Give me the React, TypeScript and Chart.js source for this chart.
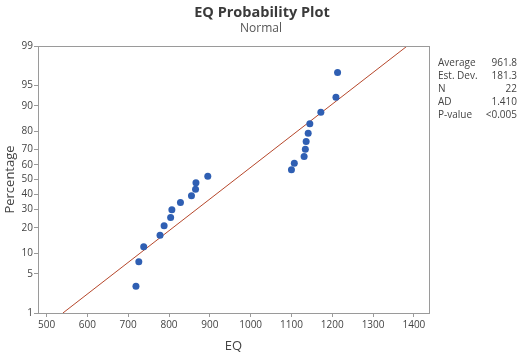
import React, { useEffect, useRef } from 'react';
import { Chart, registerables, Scale } from 'chart.js';

const TITLE = 'EQ Probability Plot';
const SUBTITLE = 'Normal';
const X_TITLE = 'EQ';
const Y_TITLE = 'Percentage';

// Observed EQ values (sorted)
const EQ_VALUES = [719, 726, 738, 778, 788, 804, 807, 828, 855, 865, 866, 895,
  1100, 1107, 1131, 1134, 1136, 1141, 1145, 1172, 1209, 1213];
// Plotting positions (median ranks), percent
const PERCENTS = [3.13, 7.59, 12.05, 16.52, 20.98, 25.45, 29.91, 34.38, 38.84, 43.30, 47.77,
  52.23, 56.70, 61.16, 65.63, 70.09, 74.55, 79.02, 83.48, 87.95, 92.41, 96.88];

const X_TICKS = [500, 600, 700, 800, 900, 1000, 1100, 1200, 1300, 1400];
const Y_TICKS = [1, 5, 10, 20, 30, 40, 50, 60, 70, 80, 90, 95, 99];

const AVERAGE = 961.8;
const STDEV = 181.3;
const STAT_LABELS = ['Average', 'Est. Dev.', 'N', 'AD', 'P-value'];
const STAT_VALUES = ['961.8', '181.3', '22', '1.410', '<0.005'];

const FONT = '"Open Sans", "Noto Sans", sans-serif';

function probit(p: number): number {
  const a = [-3.969683028665376e+01, 2.209460984245205e+02, -2.759285104469687e+02, 1.383577518672690e+02, -3.066479806614716e+01, 2.506628277459239e+00];
  const b = [-5.447609879822406e+01, 1.615858368580409e+02, -1.556989798598866e+02, 6.680131188771972e+01, -1.328068155288572e+01];
  const c = [-7.784894002430293e-03, -3.223964580411365e-01, -2.400758277161838e+00, -2.549732539343734e+00, 4.374664141464968e+00, 2.938163982698783e+00];
  const d = [7.784695709041462e-03, 3.224671290700398e-01, 2.445134137142996e+00, 3.754408661907416e+00];
  const pl = 0.02425, ph = 1 - pl;
  if (p < pl) {
    const q = Math.sqrt(-2 * Math.log(p));
    return (((((c[0] * q + c[1]) * q + c[2]) * q + c[3]) * q + c[4]) * q + c[5]) / ((((d[0] * q + d[1]) * q + d[2]) * q + d[3]) * q + 1);
  }
  if (p <= ph) {
    const q = p - 0.5, r = q * q;
    return (((((a[0] * r + a[1]) * r + a[2]) * r + a[3]) * r + a[4]) * r + a[5]) * q / (((((b[0] * r + b[1]) * r + b[2]) * r + b[3]) * r + b[4]) * r + 1);
  }
  const q = Math.sqrt(-2 * Math.log(1 - p));
  return -(((((c[0] * q + c[1]) * q + c[2]) * q + c[3]) * q + c[4]) * q + c[5]) / ((((d[0] * q + d[1]) * q + d[2]) * q + d[3]) * q + 1);
}

function normCdf(z: number): number {
  const t = 1 / (1 + 0.3275911 * Math.abs(z) / Math.SQRT2);
  const y = 1 - (((((1.061405429 * t - 1.453152027) * t) + 1.421413741) * t - 0.284496736) * t + 0.254829592) * t * Math.exp(-z * z / 2);
  return z >= 0 ? 0.5 * (1 + y) : 0.5 * (1 - y);
}

class ProbitScale extends (Scale as any) {
  static id = 'probit';
  static defaults = {};
  _zmin = -2;
  _zmax = 2;
  determineDataLimits() {
    const { min, max } = this.getUserBounds();
    this.min = min;
    this.max = max;
  }
  buildTicks() {
    return Y_TICKS.map((v) => ({ value: v }));
  }
  getLabelForValue(v: number) {
    return String(v);
  }
  configure() {
    super.configure();
    this._zmin = probit(this.min / 100);
    this._zmax = probit(this.max / 100);
  }
  getPixelForValue(v: number) {
    if (v == null || isNaN(v)) return NaN;
    const z = probit(v / 100);
    return this.getPixelForDecimal((z - this._zmin) / (this._zmax - this._zmin));
  }
  getValueForPixel(p: number) {
    const dd = this.getDecimalForPixel(p);
    return normCdf(this._zmin + dd * (this._zmax - this._zmin)) * 100;
  }
}

Chart.register(...registerables, ProbitScale as any);

const decorPlugin = {
  id: 'decor',
  afterDraw(chart: any) {
    const { ctx, chartArea } = chart;
    ctx.save();
    ctx.strokeStyle = '#9a9a9a';
    ctx.lineWidth = 1;
    ctx.strokeRect(Math.round(chartArea.left) + 0.5, Math.round(chartArea.top) + 0.5,
      Math.round(chartArea.right - chartArea.left), Math.round(chartArea.bottom - chartArea.top));
    // Titles
    ctx.textAlign = 'center';
    ctx.textBaseline = 'middle';
    ctx.fillStyle = '#3a3a3a';
    ctx.font = `bold 14.5px ${FONT}`;
    ctx.fillText(TITLE, 262, 13);
    ctx.fillStyle = '#555555';
    ctx.font = `12px ${FONT}`;
    ctx.fillText(SUBTITLE, 261, 29);
    // Stats box
    ctx.font = `10px ${FONT}`;
    ctx.fillStyle = '#444444';
    STAT_LABELS.forEach((lab, i) => {
      const y = 63 + i * 13;
      ctx.textAlign = 'left';
      ctx.fillText(lab, 438, y);
      ctx.textAlign = 'right';
      ctx.fillText(STAT_VALUES[i], 517, y);
    });
    ctx.restore();
  },
};

export default function App() {
  const ref = useRef<HTMLCanvasElement>(null);
  useEffect(() => {
    if (!ref.current) return;
    const lineData = [1, 99].map((p) => ({ x: AVERAGE + probit(p / 100) * STDEV, y: p }));
    const chart = new Chart(ref.current, {
      type: 'scatter',
      data: {
        datasets: [
          {
            data: EQ_VALUES.map((x, i) => ({ x, y: PERCENTS[i] })),
            backgroundColor: '#2f5fb3',
            borderColor: '#2f5fb3',
            pointRadius: 3.5,
            pointBorderWidth: 0,
            showLine: false,
          },
          {
            data: lineData,
            showLine: true,
            borderColor: '#b6472b',
            borderWidth: 1,
            pointRadius: 0,
            backgroundColor: '#b6472b',
          },
        ],
      },
      options: {
        responsive: false,
        animation: false,
        events: [],
        layout: { padding: { left: 0, right: 92, top: 46, bottom: 0 } },
        plugins: { legend: { display: false }, tooltip: { enabled: false }, title: { display: false } },
        scales: {
          x: {
            type: 'linear',
            min: 479,
            max: 1437,
            afterBuildTicks: (s: any) => { s.ticks = X_TICKS.map((v) => ({ value: v })); },
            afterFit: (s: any) => { s.height = 42; },
            border: { display: false },
            grid: { display: true, drawOnChartArea: false, drawTicks: true, tickLength: 4, color: '#9a9a9a' },
            ticks: { font: { family: FONT, size: 10 }, color: '#444', padding: 2, maxRotation: 0, autoSkip: false, callback: (v: any) => String(v) },
            title: { display: true, text: X_TITLE, font: { family: FONT, size: 13 }, color: '#444', padding: { top: 0, bottom: 1 } },
          },
          y: {
            type: 'probit' as any,
            min: 1,
            max: 99,
            afterFit: (s: any) => { s.width = 38; },
            border: { display: false },
            grid: { display: true, drawOnChartArea: false, drawTicks: true, tickLength: 4, color: '#9a9a9a' },
            ticks: { font: { family: FONT, size: 10 }, color: '#444', padding: 1, autoSkip: false, callback: (v: any) => String(v) },
            title: { display: true, text: Y_TITLE, font: { family: FONT, size: 13 }, color: '#444', padding: { top: 2, bottom: 0 } },
          },
        },
      } as any,
      plugins: [decorPlugin],
    });
    return () => chart.destroy();
  }, []);
  return (
    <div style={{ position: 'fixed', left: 0, top: 0, width: 521, height: 355, background: '#fff' }}>
      <canvas ref={ref} width={521} height={355} style={{ width: 521, height: 355, display: 'block' }} />
    </div>
  );
}
